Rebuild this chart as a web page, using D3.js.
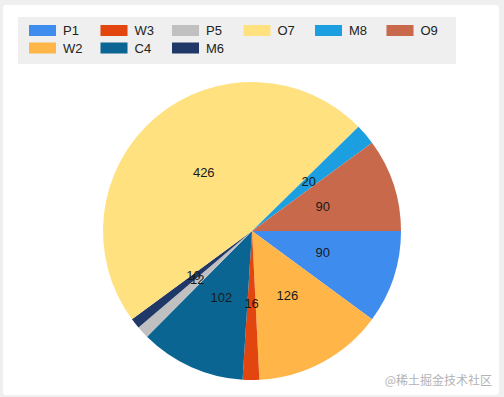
<!DOCTYPE html>
<html>
<head>
<meta charset="utf-8">
<script src="https://cdn.jsdelivr.net/npm/d3@7/dist/d3.min.js"></script>
<style>
  html, body { margin: 0; padding: 0; background: #efefef; }
  svg { display: block; }
</style>
</head>
<body>
<svg id="chart" width="504" height="397"></svg>
<script>
const categories = ["P1", "W2", "W3", "C4", "P5", "M6", "O7", "M8", "O9"];
const values = [90, 126, 16, 102, 12, 10, 426, 20, 90];
const colors = ["#3f8cef", "#ffb547", "#e2450d", "#0a6592", "#c0c0c0", "#1f3868", "#ffe180", "#1c9fe0", "#c8694b"];
const legendOrder = ["P1", "W3", "P5", "O7", "M8", "O9", "W2", "C4", "M6"];
const watermark = "@稀土掘金技术社区";

const svg = d3.select("#chart");
const font = "'Liberation Sans', Arial, sans-serif";

// card
svg.append("rect").attr("x", 3).attr("y", 5).attr("width", 496).attr("height", 390)
  .attr("rx", 3).attr("fill", "#ffffff");

// legend
const legendG = svg.append("g");
legendG.append("rect").attr("x", 18).attr("y", 17).attr("width", 438).attr("height", 47).attr("fill", "#efefef");
const color = d3.scaleOrdinal().domain(categories).range(colors);
const colX = d3.scaleLinear().domain([0, 1]).range([29, 100.5]);
const rowY = d3.scaleLinear().domain([0, 1]).range([25, 42.5]);
const perRow = 6;
const items = legendG.selectAll("g.item").data(legendOrder).join("g")
  .attr("class", "item")
  .attr("transform", (d, i) => `translate(${colX(i % perRow)},${rowY(Math.floor(i / perRow))})`);
items.append("rect").attr("width", 27).attr("height", 11).attr("fill", d => color(d));
items.append("text").attr("x", 34).attr("y", 10).attr("font-family", font).attr("font-size", 13)
  .attr("fill", "#222").text(d => d);

// pie
const cx = 252, cy = 231, r = 149;
const data = categories.map((c, i) => ({ name: c, value: values[i] }));
const pie = d3.pie().value(d => d.value).sort(null)
  .startAngle(Math.PI / 2).endAngle(Math.PI / 2 + 2 * Math.PI);
const arcs = pie(data);
const arc = d3.arc().innerRadius(0).outerRadius(r);
const labelArc = d3.arc().innerRadius(r * 0.5).outerRadius(r * 0.5);
const g = svg.append("g").attr("transform", `translate(${cx},${cy})`);
g.selectAll("path").data(arcs).join("path").attr("d", arc).attr("fill", d => color(d.data.name));
g.selectAll("text").data(arcs).join("text")
  .attr("transform", d => `translate(${labelArc.centroid(d)})`)
  .attr("text-anchor", "middle").attr("dy", "0.22em")
  .attr("font-family", font).attr("font-size", 13).attr("fill", "#1a1a1a")
  .text(d => d.data.value);

// watermark
svg.append("text").attr("x", 492).attr("y", 385).attr("text-anchor", "end")
  .attr("font-family", "'Noto Sans CJK SC', sans-serif").attr("font-size", 12)
  .attr("fill", "#b3b3b3").text(watermark);
</script>
</body>
</html>
